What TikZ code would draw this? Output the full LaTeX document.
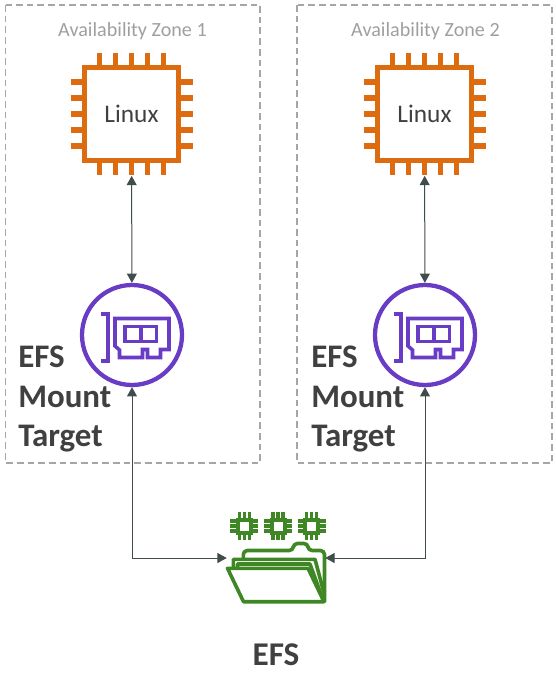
\documentclass[tikz,border=0pt]{standalone}
\usepackage{fontspec}
\setmainfont{Carlito}
\usetikzlibrary{arrows.meta, positioning, calc}
\definecolor{chiporange}{HTML}{DD6B10}
\definecolor{nicpurple}{HTML}{693CC5}
\definecolor{efsgreen}{HTML}{3F8624}
\definecolor{linkgray}{HTML}{414D4D}
\definecolor{textgray}{HTML}{404040}
\tikzset{
  zonebox/.style={draw=gray!70,dash pattern=on 5pt off 3pt,line width=1.2pt},
  zonetext/.style={text=gray!75,font=\fontsize{15.1}{18}\selectfont},
  chipbox/.style={draw=chiporange,line width=3.8pt,minimum size=70pt,inner sep=0pt,text=textgray,font=\fontsize{19}{22}\selectfont},
  chippin/.style={draw=chiporange,line width=4.2pt},
  nicring/.style={circle,draw=nicpurple,line width=3.2pt,minimum size=75pt,inner sep=0pt},
  nicline/.style={draw=nicpurple,line width=2.7pt},
  foldline/.style={draw=efsgreen,line width=2.7pt,line join=round},
  minibox/.style={draw=efsgreen,line width=3pt},
  minipin/.style={draw=efsgreen,line width=2.4pt},
  boldtext/.style={text=textgray,font=\bfseries\fontsize{24.7}{29.4}\selectfont},
  link/.style={draw=linkgray,line width=0.75pt,{Triangle[length=7pt,width=7.5pt]}-{Triangle[length=7pt,width=7.5pt]}},
}
\begin{document}
\begin{tikzpicture}[x=0.75pt,y=-0.75pt]
  \useasboundingbox (0,0) rectangle (556,674);
  \draw[zonebox] (5.5,5) rectangle (260,463);
  \draw[zonebox] (297,5) rectangle (552,463);
  % one column per zone
  \foreach \cx/\nm/\zn in {131.5/A/1,424.5/B/2}{
    \node[zonetext] (zone\nm) at (\cx+1,31) {Availability Zone \zn};
    \node[chipbox] (chip\nm) at (\cx,114) {Linux};
    \foreach \d in {-32,-16,0,16,32}{
      \draw[chippin] (\cx+\d,53) -- (\cx+\d,66);
      \draw[chippin] (\cx+\d,162) -- (\cx+\d,175);
      \draw[chippin] (\cx-61,114+\d) -- (\cx-48,114+\d);
      \draw[chippin] (\cx+48,114+\d) -- (\cx+61,114+\d);
    }
    \node[nicring] (nic\nm) at (\cx+0.5,335) {};
    % card and bracket
    \draw[nicline] (\cx-31,313.7) -- (\cx-23.5,313.7) -- (\cx-23.5,360.7) -- (\cx-31,360.7);
    \draw[nicline] (\cx-16.5,318.5) -- (\cx+37.5,318.5) -- (\cx+37.5,349.5) -- (\cx+29,349.5)
      -- (\cx+29,357.5) -- (\cx+16,357.5) -- (\cx+16,349.5) -- (\cx+11,349.5) -- (\cx+11,357.5)
      -- (\cx-12,357.5) -- (\cx-12,350) -- (\cx-16.5,346) -- cycle;
    \draw[nicline] (\cx-6.5,326.5) rectangle (\cx+25,341.5);
    \draw[nicline] (\cx+9.5,326.5) -- (\cx+9.5,341.5);
    \node[boldtext,anchor=north west,align=left,inner sep=0pt] (label\nm) at (\cx-113.5,346) {EFS\\Mount\\Target};
    \draw[link,shorten <=9.5pt] (chip\nm) -- (nic\nm);
  }
  % folder
  \node[minimum width=73.5pt,minimum height=4pt,inner sep=0pt] (efsFolder) at (276,558) {};
  \draw[foldline,rounded corners=3pt] (243.3,559) -- (243.3,550.5) -- (293.3,550.5) -- (293.3,543.5)
    -- (308,543.5) -- (308,550.5) -- (324.5,550.5) -- (324.5,602);
  \draw[foldline] (233.3,567) -- (233.3,559.3) -- (315,559.3) -- (324,593);
  \draw[foldline] (237.5,567) -- (237.5,564) -- (310,564) -- (322,597);
  \draw[foldline] (227.5,568.3) -- (308,568.3) -- (324,601.7) -- (243.5,601.7) -- cycle;
  % small chips
  \foreach \mx in {244.3,278,311.7}{
    \draw[minibox] (\mx-6.5,519.5) rectangle (\mx+6.5,532.5);
    \foreach \d in {-5,0,5}{
      \draw[minipin] (\mx+\d,512) -- (\mx+\d,519);
      \draw[minipin] (\mx+\d,533) -- (\mx+\d,540);
      \draw[minipin] (\mx-14,526+\d) -- (\mx-7,526+\d);
      \draw[minipin] (\mx+7,526+\d) -- (\mx+14,526+\d);
    }
  }
  \draw[link] (nicA) |- (efsFolder.west);
  \draw[link] (nicB) |- (efsFolder.east);
  \node[boldtext,font=\bfseries\fontsize{24.9}{28}\selectfont] (efsLabel) at (276,655) {EFS};
\end{tikzpicture}
\end{document}
